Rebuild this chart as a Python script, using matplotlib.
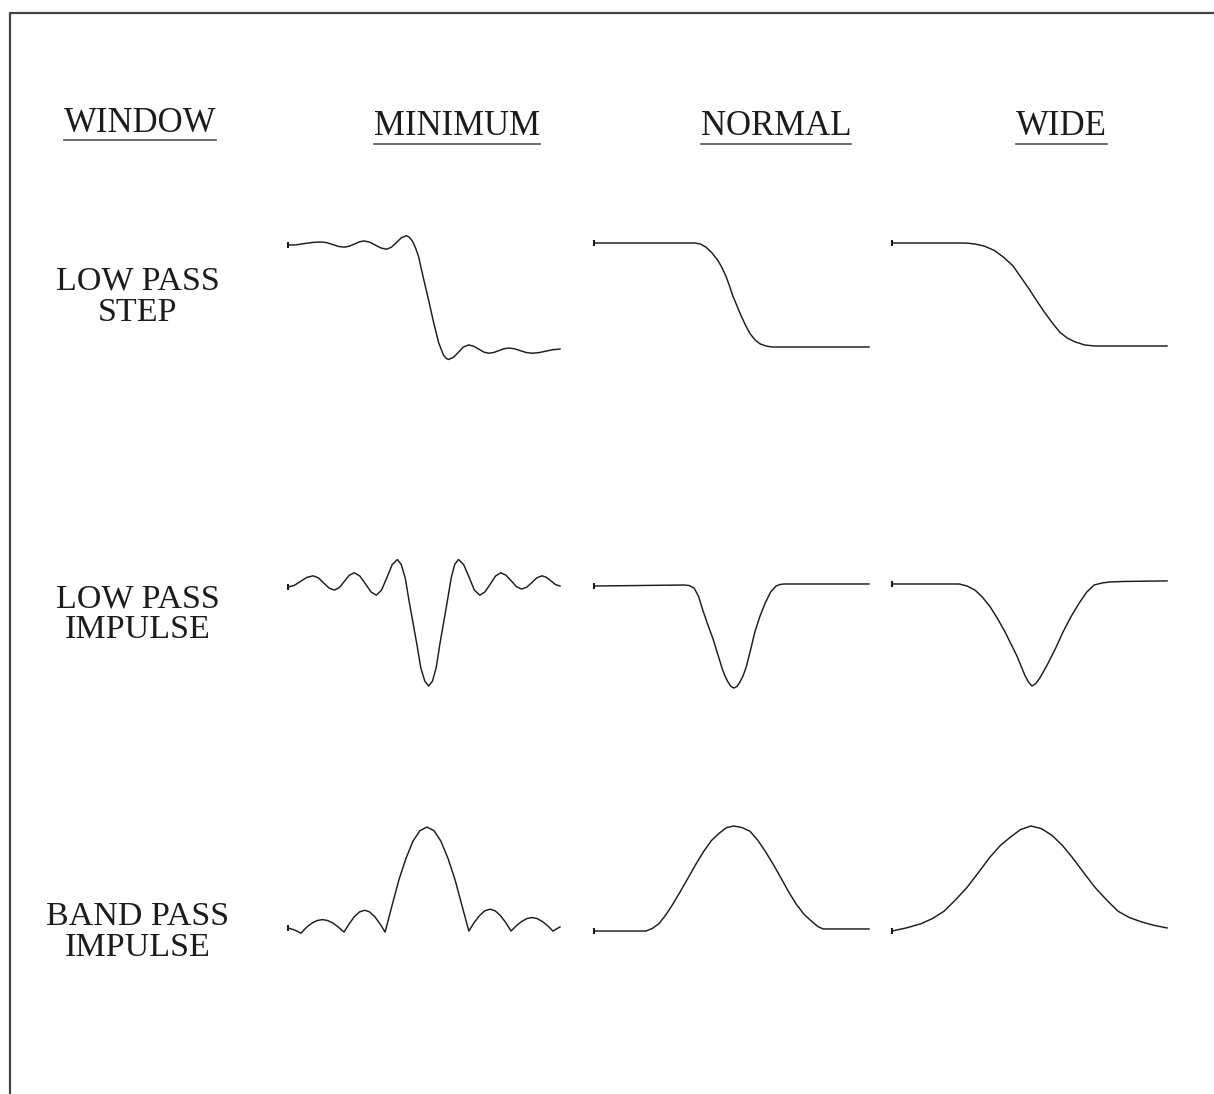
import matplotlib
matplotlib.use("Agg")
import matplotlib.pyplot as plt
from matplotlib.lines import Line2D

# Window comparison: step / impulse responses for three window widths.
# Time is in % of the trace, amplitude is normalised per row.

col_names = ["MINIMUM", "NORMAL", "WIDE"]
row_names = ["LOW PASS\nSTEP", "LOW PASS\nIMPULSE", "BAND PASS\nIMPULSE"]

# --- low pass step
lp_step_min_t = [0, 3.0, 6.1, 9.2, 12.2, 14.3, 16.5, 18.6, 20.7, 22.5, 24.4, 26.2, 28.0, 30.0, 32.1, 34.2,
                 36.2, 38.0, 39.9, 41.7, 43.5, 44.6, 45.4, 46.1, 47.0, 48.0, 49.8, 51.7, 53.5, 55.4, 57.2,
                 58.2, 59.0, 60.8, 62.7, 64.5, 66.4, 68.2, 70.1, 71.9, 73.8, 75.6, 77.5, 79.3, 81.2, 83.3,
                 85.4, 87.6, 89.7, 92.3, 94.8, 97.4, 100]
lp_step_min_a = [0.98, 0.982, 0.995, 1.006, 1.01, 1.003, 0.985, 0.967, 0.96, 0.969, 0.99, 1.011, 1.02, 1.008,
                 0.98, 0.952, 0.94, 0.959, 1.005, 1.051, 1.07, 1.055, 1.03, 1.00, 0.945, 0.87, 0.66, 0.45,
                 0.24, 0.04, -0.08, -0.11, -0.12, -0.10, -0.05, 0.0, 0.02, 0.008, -0.02, -0.048, -0.06,
                 -0.053, -0.035, -0.017, -0.01, -0.017, -0.035, -0.053, -0.06, -0.054, -0.04, -0.026, -0.02]

lp_step_norm_t = [0, 31.6, 36.7, 38.7, 40.7, 42.9, 45.1, 46.6, 48.0, 49.3, 50.5, 52.0, 53.5, 55.1, 56.7,
                  58.5, 60.4, 62.5, 64.7, 100]
lp_step_norm_a = [1.00, 1.00, 1.00, 0.99, 0.96, 0.905, 0.83, 0.76, 0.68, 0.585, 0.49, 0.395, 0.30, 0.21,
                  0.13, 0.07, 0.03, 0.01, 0.00, 0.00]

lp_step_wide_t = [0, 25.0, 27.6, 30.2, 33.6, 37.1, 40.5, 44.0, 46.9, 49.8, 52.5, 55.3, 58.2, 61.1, 63.8,
                  66.5, 70.0, 73.5, 80, 100]
lp_step_wide_a = [1.00, 1.00, 0.998, 0.99, 0.97, 0.93, 0.865, 0.78, 0.67, 0.56, 0.45, 0.34, 0.235, 0.14,
                  0.085, 0.05, 0.02, 0.01, 0.01, 0.01]

# --- low pass impulse
lp_imp_min_t = [0, 2.3, 4.6, 6.9, 9.2, 11.2, 13.1, 15.1, 17.0, 18.9, 20.7, 22.5, 24.4, 26.4, 28.5, 30.5,
                32.5, 34.4, 36.4, 38.3, 40.2, 41.6, 43.1, 44.5, 45.95, 47.4, 48.8, 50.3, 51.7, 53.1, 54.5,
                55.8, 57.2, 58.6, 60.0, 61.3, 62.7, 64.6, 66.6, 68.5, 70.5, 72.4, 74.4, 76.3, 78.2, 80.1,
                82.1, 84.0, 85.9, 87.8, 89.7, 91.5, 93.4, 95.0, 96.7, 98.3, 100]
lp_imp_min_a = [-0.02, -0.004, 0.035, 0.074, 0.09, 0.07, 0.02, -0.03, -0.05, -0.025, 0.035, 0.095, 0.12,
                0.088, 0.01, -0.068, -0.10, -0.049, 0.075, 0.199, 0.25, 0.203, 0.069, -0.155, -0.37, -0.585,
                -0.809, -0.943, -0.99, -0.943, -0.809, -0.585, -0.37, -0.155, 0.069, 0.203, 0.25, 0.199,
                0.075, -0.049, -0.10, -0.068, 0.01, 0.088, 0.12, 0.097, 0.04, -0.017, -0.04, -0.021, 0.025,
                0.071, 0.09, 0.075, 0.04, 0.005, -0.01]

lp_imp_norm_t = [0, 32.7, 34.6, 36.4, 38.0, 39.6, 41.4, 43.3, 44.9, 46.5, 47.6, 48.7, 49.8, 50.9, 52.0,
                 53.1, 54.2, 55.3, 56.9, 58.5, 60.3, 62.2, 64.2, 66.2, 67.6, 69.1, 100]
lp_imp_norm_a = [-0.01, 0.00, -0.005, -0.03, -0.11, -0.25, -0.39, -0.53, -0.67, -0.81, -0.89, -0.95, -0.995,
                 -1.01, -0.995, -0.95, -0.89, -0.81, -0.64, -0.46, -0.31, -0.18, -0.07, -0.01, 0.005, 0.01, 0.01]

lp_imp_wide_t = [0, 24.4, 27.3, 30.2, 32.9, 35.6, 38.4, 41.1, 43.3, 45.5, 47.0, 48.4, 49.7, 50.9, 52.3,
                 53.8, 56.7, 59.5, 62.2, 65.1, 68.0, 70.8, 73.5, 76.4, 79.3, 85, 100]
lp_imp_wide_a = [0.01, 0.01, -0.01, -0.05, -0.12, -0.21, -0.33, -0.46, -0.58, -0.70, -0.80, -0.89, -0.955,
                 -0.99, -0.965, -0.91, -0.77, -0.62, -0.46, -0.31, -0.18, -0.07, 0.00, 0.02, 0.03, 0.035, 0.04]

# --- band pass impulse (envelope)
bp_imp_min_t = [0, 2.4, 4.8, 6.8, 8.75, 10.7, 12.7, 14.6, 16.6, 18.6, 20.6, 22.5, 24.4, 26.3, 28.15, 30.0,
                31.9, 33.8, 35.7, 38.3, 40.8, 43.4, 45.95, 48.5, 51.1, 53.7, 56.2, 58.8, 61.4, 63.9, 66.5,
                68.4, 70.4, 72.3, 74.25, 76.2, 78.1, 80.1, 82.0, 83.9, 85.9, 87.8, 89.7, 91.6, 93.5, 95.5,
                97.4, 100]
bp_imp_min_a = [0.02, 0.0, -0.03, 0.026, 0.065, 0.091, 0.10, 0.091, 0.065, 0.026, -0.02, 0.06, 0.128, 0.174,
                0.19, 0.174, 0.128, 0.06, -0.02, 0.24, 0.485, 0.69, 0.855, 0.955, 0.99, 0.955, 0.855, 0.69,
                0.485, 0.24, -0.01, 0.07, 0.138, 0.184, 0.20, 0.184, 0.138, 0.07, -0.01, 0.04, 0.082, 0.11,
                0.12, 0.11, 0.082, 0.04, -0.01, 0.03]

bp_imp_norm_t = [0, 18.9, 21.2, 23.6, 26.1, 28.7, 31.4, 34.2, 37.1, 40.0, 42.7, 45.5, 48.2, 50.9, 53.8,
                 56.7, 59.5, 62.2, 65.1, 68.0, 70.7, 73.5, 76.4, 79.3, 81.3, 83.3, 100]
bp_imp_norm_a = [-0.01, -0.01, 0.015, 0.06, 0.145, 0.25, 0.37, 0.50, 0.635, 0.76, 0.86, 0.93, 0.985, 1.00,
                 0.985, 0.95, 0.865, 0.76, 0.635, 0.50, 0.37, 0.25, 0.15, 0.08, 0.035, 0.01, 0.01]

bp_imp_wide_t = [0, 5.2, 10.5, 14.7, 18.9, 23.1, 27.3, 31.5, 35.6, 39.3, 42.9, 46.7, 50.5, 54.3, 58.2,
                 61.9, 65.5, 69.6, 73.8, 78.0, 82.2, 86.3, 90.5, 95.2, 100]
bp_imp_wide_a = [-0.01, 0.02, 0.06, 0.11, 0.18, 0.29, 0.41, 0.555, 0.70, 0.81, 0.89, 0.965, 1.00, 0.975,
                 0.91, 0.815, 0.70, 0.555, 0.41, 0.29, 0.18, 0.12, 0.08, 0.045, 0.02]

traces = [
    [(lp_step_min_t, lp_step_min_a), (lp_step_norm_t, lp_step_norm_a), (lp_step_wide_t, lp_step_wide_a)],
    [(lp_imp_min_t, lp_imp_min_a), (lp_imp_norm_t, lp_imp_norm_a), (lp_imp_wide_t, lp_imp_wide_a)],
    [(bp_imp_min_t, bp_imp_min_a), (bp_imp_norm_t, bp_imp_norm_a), (bp_imp_wide_t, bp_imp_wide_a)],
]

# layout in pixels
W, H = 1214, 1094
col_spans = [(288, 560), (594, 869), (892, 1167)]
col_centers = [457, 776, 1061]
# zero level (px), px per unit, shown amplitude range
row_levels = [(347, 104, -0.3, 1.3), (585, 102, -1.2, 0.4), (930, 104, -0.2, 1.2)]
row_label_base = [290, 607, 925]
ink = "#1c1c1c"
serif = ["Liberation Serif", "DejaVu Serif"]

fig = plt.figure(figsize=(W / 100, H / 100), dpi=100)
fig.patch.set_facecolor("white")

for r, row in enumerate(traces):
    y0, k, lo, hi = row_levels[r]
    top, bot = y0 - k * hi, y0 - k * lo
    for c, (t, a) in enumerate(row):
        x0, x1 = col_spans[c]
        ax = fig.add_axes([x0 / W, 1 - bot / H, (x1 - x0) / W, (bot - top) / H])
        ax.set_xlim(0, 100)
        ax.set_ylim(lo, hi)
        ax.axis("off")
        ax.plot(t, a, color=ink, lw=1.05, clip_on=False, solid_joinstyle="round")
        ax.plot(t[:1], a[:1], marker="|", ms=5, mew=1.5, color=ink, clip_on=False)

# headers
heads = [fig.text(140 / W, 1 - 132 / H, "WINDOW", ha="center", va="baseline",
                  fontsize=25, family=serif, color=ink)]
for name, xc in zip(col_names, col_centers):
    heads.append(fig.text(xc / W, 1 - 135 / H, name, ha="center", va="baseline",
                          fontsize=25, family=serif, color=ink))

# row labels
for label, base in zip(row_names, row_label_base):
    for i, line in enumerate(label.split("\n")):
        fig.text(138 / W, 1 - (base + i * 31) / H, line, ha="center", va="baseline",
                 fontsize=24.5, family=serif, color=ink)

# underline the headers
fig.canvas.draw()
for i, t in enumerate(heads):
    bb = t.get_window_extent()
    yu = 1 - (140 if i == 0 else 144) / H
    fig.add_artist(Line2D([bb.x0 / W, bb.x1 / W], [yu, yu], transform=fig.transFigure,
                          color="#555555", lw=1.2))

# frame (left and top edges only)
fig.add_artist(Line2D([10 / W, 10 / W, 1.0], [0.0, 1 - 13 / H, 1 - 13 / H],
                      transform=fig.transFigure, color="#444444", lw=1.6))

fig.savefig("out.png", dpi=100)
